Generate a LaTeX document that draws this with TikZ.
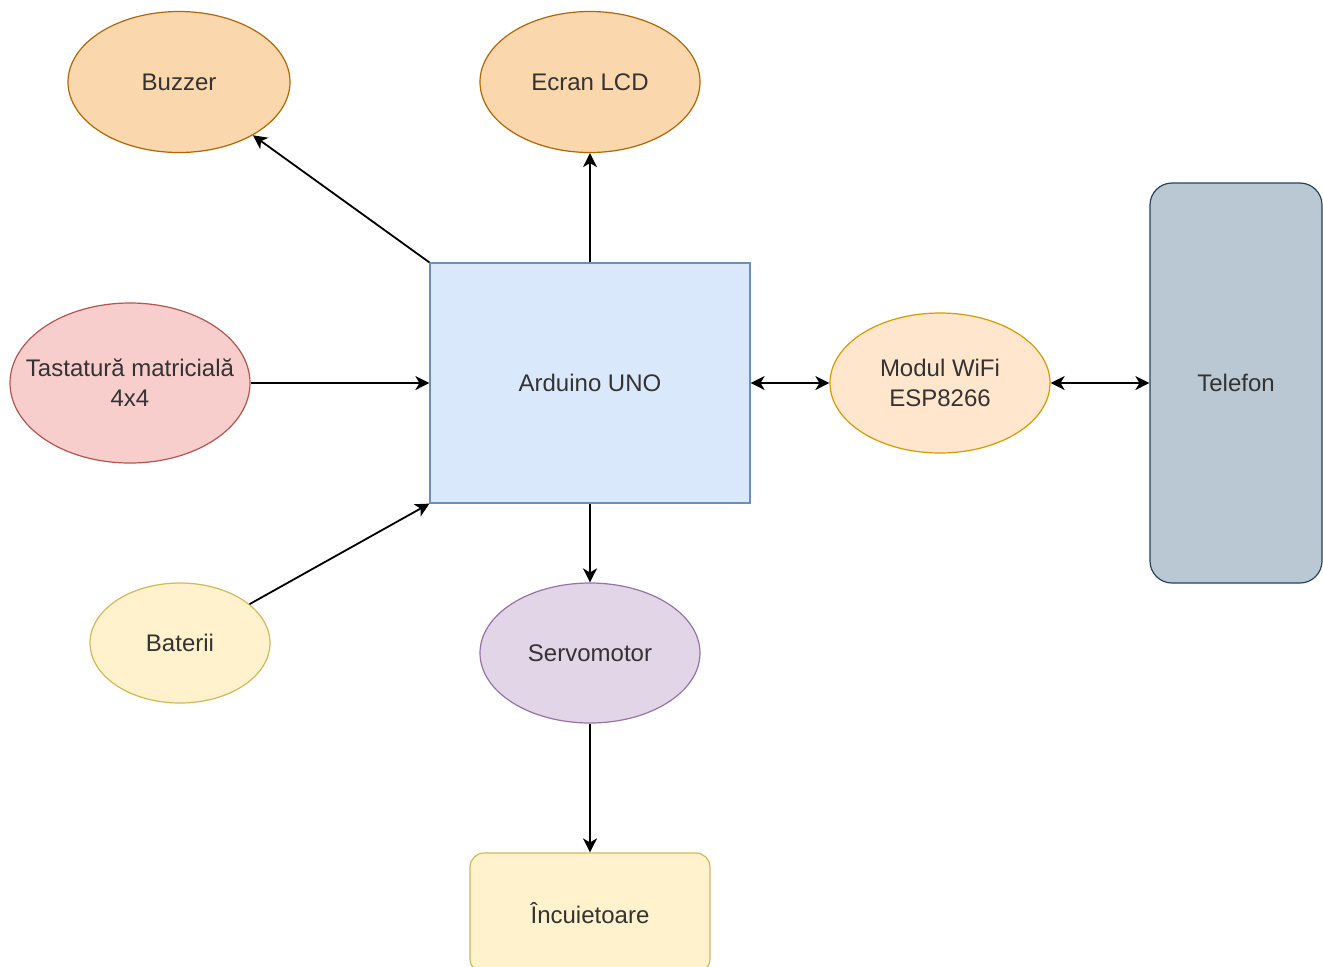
\documentclass[tikz,border=0pt]{standalone}
\usepackage{fontspec}
\setmainfont{Liberation Sans}
\usetikzlibrary{shapes.geometric,arrows.meta}
\definecolor{fOrange}{HTML}{FAD7AC}\definecolor{dOrange}{HTML}{B46504}
\definecolor{fRed}{HTML}{F8CECC}\definecolor{dRed}{HTML}{B85450}
\definecolor{fBlue}{HTML}{DAE8FC}\definecolor{dBlue}{HTML}{6C8EBF}
\definecolor{fLOrange}{HTML}{FFE6CC}\definecolor{dLOrange}{HTML}{D79B00}
\definecolor{fGray}{HTML}{BAC8D3}\definecolor{dGray}{HTML}{23445D}
\definecolor{fYellow}{HTML}{FFF2CC}\definecolor{dYellow}{HTML}{D6B656}
\definecolor{fPurple}{HTML}{E1D5E7}\definecolor{dPurple}{HTML}{9673A6}
\definecolor{txt}{HTML}{333333}
\begin{document}
\begin{tikzpicture}[x=0.5pt,y=-0.5pt,
  every node/.style={font=\fontsize{12}{15}\selectfont, text=txt, align=center, inner sep=0pt, line width=0.6pt},
  ell/.style={ellipse, draw=#1},
  box/.style={rectangle, draw=#1},
  tip/.style={Stealth[length=7pt,width=7pt,inset=2pt]},
  conn/.style={line width=0.9pt, -{Stealth[length=7pt,width=7pt,inset=2pt]}},
  biconn/.style={line width=0.9pt, {Stealth[length=7pt,width=7pt,inset=2pt]}-{Stealth[length=7pt,width=7pt,inset=2pt]}}
]
\clip (0,0) rectangle (1323,966);
\fill[white] (0,0) rectangle (1323,966);
\node[ell=dOrange, fill=fOrange, minimum width=111pt, minimum height=70.5pt] (buzz) at (179,82) {Buzzer};
\node[ell=dOrange, fill=fOrange, minimum width=110pt, minimum height=70.5pt] (lcd) at (590,82) {Ecran LCD};
\node[box=dBlue, fill=fBlue, minimum width=160pt, minimum height=120pt] (ard) at (590,383) {Arduino UNO};
\node[ell=dRed, fill=fRed, inner xsep=-10pt, minimum width=120pt, minimum height=80pt] (kbd) at (130,383) {Tastatură matricială\\4x4};
\node[ell=dLOrange, fill=fLOrange, minimum width=110pt, minimum height=70pt] (wifi) at (940,383) {Modul WiFi\\ESP8266};
\node[box=dGray, fill=fGray, rounded corners=11pt, minimum width=86pt, minimum height=200pt] (tel) at (1236,383) {Telefon};
\node[ell=dYellow, fill=fYellow, minimum width=90pt, minimum height=60pt] (bat) at (180,643) {Baterii};
\node[ell=dPurple, fill=fPurple, minimum width=110pt, minimum height=70pt] (servo) at (590,653) {Servomotor};
\node[box=dYellow, fill=fYellow, rounded corners=7pt, minimum width=120pt, minimum height=60pt] (lock) at (590,913) {Încuietoare};
\draw[conn] (ard.north west) -- (buzz);
\draw[conn] (ard.north) -- (lcd.south);
\draw[conn] (kbd.east) -- (ard.west);
\draw[conn] (bat) -- (ard.south west);
\draw[biconn] (ard.east) -- (wifi.west);
\draw[biconn] (wifi.east) -- (tel.west);
\draw[conn] (ard.south) -- (servo.north);
\draw[conn] (servo.south) -- (lock.north);
\end{tikzpicture}
\end{document}
